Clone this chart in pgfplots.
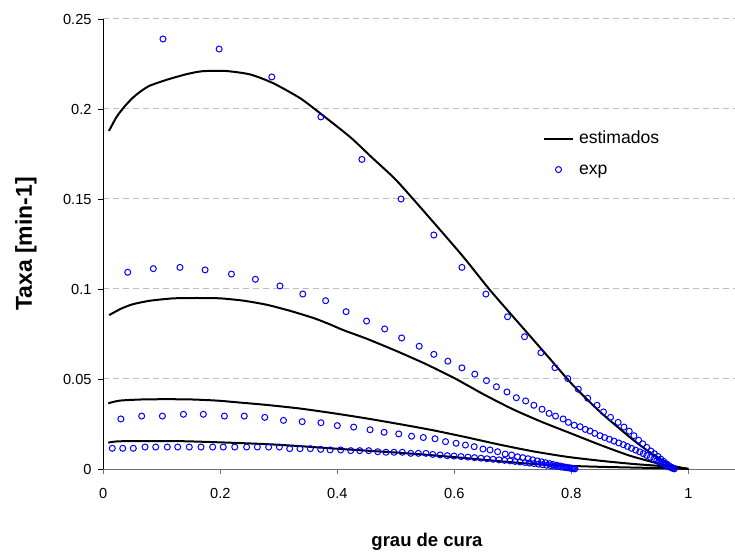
\documentclass[border=0pt]{standalone}
\usepackage{fontspec}
\setmainfont{Liberation Sans}
\usepackage{pgfplots}
\pgfplotsset{compat=1.18}
\definecolor{expblue}{RGB}{0,0,255}
\definecolor{gridgray}{RGB}{192,192,192}
\definecolor{xaxgray}{RGB}{110,110,110}
\begin{document}
\begin{tikzpicture}
\begin{axis}[
  at={(0,0)}, anchor=south west,
  scale only axis, width=631.7bp, height=450bp,
  xmin=0, xmax=1.0798, ymin=0, ymax=0.25,
  axis x line*=bottom, axis y line*=left,
  axis line style={-},
  x axis line style={draw=xaxgray, line width=1bp},
  y axis line style={draw=black, line width=0.8bp},
  xtick={0,0.2,0.4,0.6,0.8,1},
  ytick={0,0.05,0.1,0.15,0.2,0.25},
  tick align=outside,
  major tick length=5bp,
  xtick style={draw=xaxgray, line width=0.8bp},
  ytick style={draw=black, line width=0.8bp},
  scaled x ticks=false, scaled y ticks=false,
  /pgf/number format/assume math mode=true,
  /pgf/number format/.cd, fixed, precision=2, /pgfplots/.cd,
  ticklabel style={font=\fontsize{14.6bp}{17bp}\selectfont, inner sep=0pt},
  xticklabel style={anchor=north, yshift=-14bp},
  yticklabel style={anchor=east, xshift=-6.6bp},
  ymajorgrids,
  major grid style={draw=gridgray, dash pattern=on 6bp off 4bp, line width=1bp},
  xlabel={grau de cura},
  xlabel style={font=\bfseries\fontsize{18.5bp}{22bp}\selectfont, at={(axis description cs:0.5124,0)}, anchor=base, yshift=-77bp, inner sep=0pt},
  ylabel={Taxa [min-1]},
  ylabel style={font=\bfseries\fontsize{23bp}{27bp}\selectfont, at={(axis description cs:-0.105,0.5)}, anchor=south, inner sep=0pt},
  legend cell align=left,
  legend style={at={(axis cs:0.7516,0.1861)}, anchor=north west, draw=none, fill=none,
    inner sep=0pt, outer sep=0pt, column sep=5bp, row sep=21.9bp,
    font=\fontsize{17.6bp}{20bp}\selectfont,
    nodes={inner sep=0pt, outer sep=0pt, text height=9.1bp, text depth=0pt}},
]
% model curves (estimados)
\addplot[black, line width=2bp, smooth, tension=0.4,
  legend image code/.code={\draw[black, line width=2bp] (0bp,0bp) -- (29bp,0bp);}]
coordinates {
(0.0097,0.1878)(0.0229,0.1957)(0.0371,0.2017)(0.0513,0.2065)(0.0656,0.2102)(0.0798,0.2130)
(0.109,0.2163)(0.143,0.2194)(0.17,0.2210)(0.21,0.2211)(0.251,0.2192)(0.290,0.2144)
(0.336,0.2061)(0.370,0.1978)(0.422,0.1844)(0.46,0.1728)(0.502,0.1600)(0.564,0.1372)
(0.615,0.1180)(0.661,0.0994)(0.717,0.0785)(0.76,0.0625)(0.803,0.0465)(0.85,0.0315)
(0.906,0.0161)(0.94,0.0080)(0.974,0.0018)(1.0,0.0)};
\addlegendentry{estimados}
\addplot[black, line width=2bp, smooth, tension=0.4, forget plot]
coordinates {
(0.01,0.0855)(0.03,0.0890)(0.05,0.0915)(0.08,0.0935)(0.12,0.0948)(0.16,0.0950)
(0.20,0.0948)(0.24,0.0935)(0.28,0.0912)(0.32,0.0878)(0.36,0.0838)(0.387,0.0804)
(0.41,0.0772)(0.45,0.0724)(0.50,0.0657)(0.55,0.0585)(0.60,0.0505)(0.65,0.0415)
(0.70,0.0332)(0.75,0.0261)(0.80,0.0197)(0.85,0.0133)(0.90,0.0074)(0.95,0.0030)(1.0,0.0)};
\addplot[black, line width=2bp, smooth, tension=0.4, forget plot]
coordinates {
(0.0085,0.0365)(0.0285,0.0380)(0.074,0.0387)(0.143,0.0387)(0.194,0.0380)(0.234,0.0369)
(0.279,0.0356)(0.336,0.0336)(0.393,0.0310)(0.450,0.0281)(0.507,0.0249)(0.564,0.0215)
(0.621,0.0176)(0.678,0.0135)(0.735,0.0098)(0.792,0.0068)(0.849,0.0046)(0.906,0.0028)
(0.963,0.0014)(1.0,0.0)};
\addplot[black, line width=2bp, smooth, tension=0.4, forget plot]
coordinates {
(0.0085,0.0146)(0.0285,0.0154)(0.125,0.0155)(0.2,0.0148)(0.28,0.0138)(0.336,0.0127)
(0.393,0.0114)(0.450,0.0102)(0.507,0.0090)(0.564,0.0076)(0.621,0.0060)(0.678,0.0043)
(0.735,0.0028)(0.792,0.0018)(0.85,0.0012)(0.906,0.0008)(0.963,0.0004)(1.0,0.0)};
% experimental points (exp)
\addplot[only marks, mark=o, mark size=3bp, draw=expblue, mark options={line width=1bp},
  legend image code/.code={\draw[expblue, line width=1bp] (14.5bp,0bp) circle[radius=3bp];}]
coordinates {
(0.102,0.2389)(0.198,0.2333)(0.288,0.2178)(0.372,0.1956)(0.442,0.1720)(0.509,0.1500)
(0.565,0.1300)(0.613,0.1120)(0.654,0.0972)(0.691,0.0846)(0.720,0.0735)(0.748,0.0646)
(0.772,0.0563)(0.794,0.0502)(0.812,0.0443)(0.828,0.0393)(0.844,0.0354)(0.855,0.0317)
(0.867,0.0287)(0.880,0.0259)(0.890,0.0233)(0.899,0.0210)(0.907,0.0185)(0.915,0.0160)
(0.922,0.0140)(0.929,0.0120)(0.936,0.0100)(0.942,0.0085)(0.948,0.0070)(0.953,0.0055)
(0.958,0.0042)(0.962,0.0030)(0.966,0.0020)(0.970,0.0012)(0.973,0.0006)(0.976,0.0002)};
\addlegendentry{exp}
\addplot[only marks, mark=o, mark size=3bp, draw=expblue, mark options={line width=1bp}, forget plot]
coordinates {
(0.0417,0.1093)(0.0855,0.1113)(0.131,0.1120)(0.174,0.1106)(0.219,0.1083)(0.260,0.1054)
(0.302,0.1017)(0.341,0.0972)(0.380,0.0935)(0.415,0.0874)(0.450,0.0822)(0.481,0.0778)
(0.510,0.0728)(0.540,0.0682)(0.565,0.0637)(0.589,0.0599)(0.613,0.0562)(0.635,0.0527)
(0.655,0.0491)(0.672,0.0457)(0.690,0.0428)(0.706,0.0396)(0.722,0.0378)(0.736,0.0354)
(0.750,0.0332)(0.762,0.0309)(0.773,0.0294)(0.786,0.0278)(0.795,0.0259)(0.805,0.0243)
(0.815,0.0235)(0.824,0.0220)(0.832,0.0211)(0.840,0.0198)(0.849,0.0185)(0.857,0.0175)
(0.865,0.0165)(0.873,0.0155)(0.881,0.0145)(0.889,0.0135)(0.896,0.0125)(0.903,0.0115)
(0.910,0.0105)(0.917,0.0095)(0.923,0.0085)(0.929,0.0075)(0.935,0.0065)(0.941,0.0055)
(0.946,0.0046)(0.951,0.0038)(0.956,0.0030)(0.961,0.0022)(0.965,0.0015)(0.969,0.0009)
(0.973,0.0004)(0.976,0.0001)};
\addplot[only marks, mark=o, mark size=3bp, draw=expblue, mark options={line width=1bp}, forget plot]
coordinates {
(0.030,0.0278)(0.0656,0.0294)(0.101,0.0294)(0.137,0.0304)(0.171,0.0304)(0.207,0.0294)
(0.241,0.0294)(0.276,0.0287)(0.308,0.0270)(0.340,0.0263)(0.372,0.0257)(0.400,0.0241)
(0.428,0.0233)(0.456,0.0218)(0.480,0.0204)(0.505,0.0195)(0.527,0.0182)(0.547,0.0175)
(0.567,0.0168)(0.585,0.0152)(0.603,0.0143)(0.619,0.0133)(0.634,0.0124)(0.649,0.0111)
(0.661,0.0106)(0.674,0.0096)(0.687,0.0083)(0.698,0.0078)(0.708,0.0068)(0.717,0.0063)
(0.726,0.0057)(0.734,0.0051)(0.742,0.0045)(0.749,0.0040)(0.756,0.0035)(0.763,0.0030)
(0.769,0.0025)(0.775,0.0021)(0.781,0.0017)(0.786,0.0013)(0.791,0.0010)(0.796,0.0007)
(0.800,0.0004)(0.804,0.0002)};
\addplot[only marks, mark=o, mark size=3bp, draw=expblue, mark options={line width=1bp}, forget plot]
coordinates {
(0.0154,0.0115)(0.0332,0.0115)(0.0513,0.0115)(0.0713,0.0122)(0.0896,0.0122)(0.1094,0.0122)
(0.1272,0.0122)(0.147,0.0122)(0.167,0.0122)(0.187,0.0122)(0.205,0.0122)(0.2247,0.0122)
(0.245,0.0122)(0.2633,0.0122)(0.2827,0.0122)(0.301,0.0122)(0.3186,0.0113)(0.3362,0.0113)
(0.3539,0.0113)(0.3716,0.0109)(0.3876,0.0106)(0.4058,0.0106)(0.4229,0.0102)(0.4383,0.0102)
(0.4537,0.0102)(0.4691,0.0096)(0.4832,0.0093)(0.4969,0.0093)(0.5111,0.0093)(0.5255,0.0087)
(0.5385,0.0087)(0.5516,0.0087)(0.5631,0.0081)(0.5756,0.0078)(0.588,0.0074)(0.5995,0.0072)
(0.6115,0.0069)(0.6234,0.0066)(0.6345,0.0063)(0.6456,0.0060)(0.6559,0.0057)(0.6662,0.0054)
(0.6764,0.0051)(0.6858,0.0048)(0.6952,0.0045)(0.7038,0.0042)(0.7123,0.0039)(0.7209,0.0036)
(0.7285,0.0033)(0.7362,0.0030)(0.7439,0.0027)(0.7508,0.0024)(0.7576,0.0021)(0.7644,0.0019)
(0.7704,0.0016)(0.7764,0.0014)(0.7824,0.0011)(0.7875,0.0009)(0.7926,0.0007)(0.7977,0.0005)
(0.8020,0.0003)(0.8063,0.0001)};
\end{axis}
\pgfresetboundingbox
\path[use as bounding box] (-103.3bp,-83bp) rectangle (631.7bp,469bp);
\end{tikzpicture}
\end{document}
